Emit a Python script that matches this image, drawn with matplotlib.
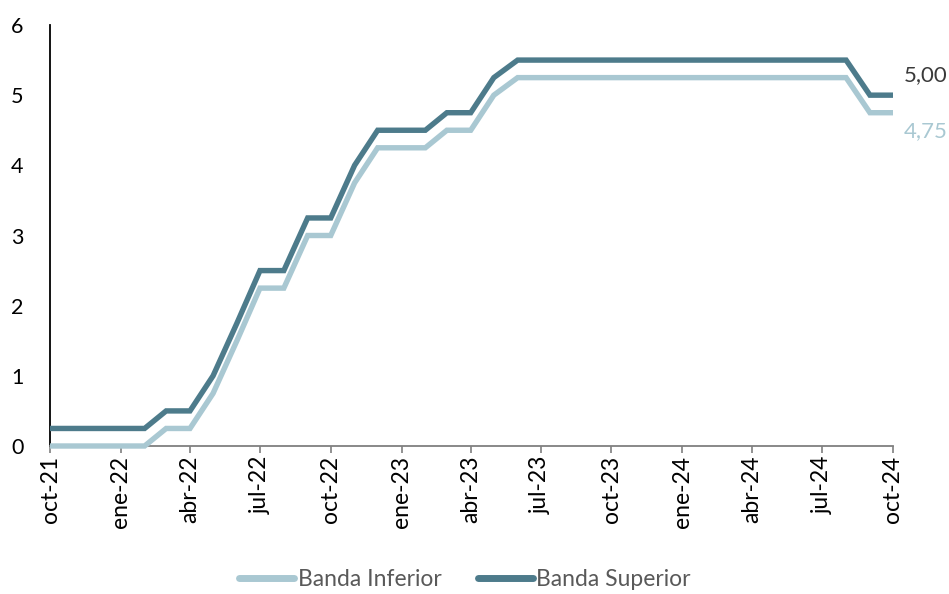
import matplotlib
matplotlib.use('Agg')
import matplotlib.pyplot as plt
import pandas as pd

# monthly fed funds target range, oct-21 .. oct-24
months = pd.date_range('2021-10-01', '2024-10-01', freq='MS')

banda_superior = [0.25, 0.25, 0.25, 0.25, 0.25, 0.50, 0.50, 1.00, 1.75, 2.50,
                  2.50, 3.25, 3.25, 4.00, 4.50, 4.50, 4.50, 4.75, 4.75, 5.25,
                  5.50, 5.50, 5.50, 5.50, 5.50, 5.50, 5.50, 5.50, 5.50, 5.50,
                  5.50, 5.50, 5.50, 5.50, 5.50, 5.00, 5.00]
banda_inferior = [0.00, 0.00, 0.00, 0.00, 0.00, 0.25, 0.25, 0.75, 1.50, 2.25,
                  2.25, 3.00, 3.00, 3.75, 4.25, 4.25, 4.25, 4.50, 4.50, 5.00,
                  5.25, 5.25, 5.25, 5.25, 5.25, 5.25, 5.25, 5.25, 5.25, 5.25,
                  5.25, 5.25, 5.25, 5.25, 5.25, 4.75, 4.75]

tick_labels = ['oct-21', 'ene-22', 'abr-22', 'jul-22', 'oct-22', 'ene-23', 'abr-23',
               'jul-23', 'oct-23', 'ene-24', 'abr-24', 'jul-24', 'oct-24']
y_ticks = [0, 1, 2, 3, 4, 5, 6]

col_inf = '#a9c8d2'
col_sup = '#4d7b8b'

plt.rcParams['font.family'] = ['Lato', 'DejaVu Sans']

fig = plt.figure(figsize=(9.49, 5.94), dpi=100)
ax = fig.add_axes([50 / 949, 1 - 446 / 594, 843 / 949, 421 / 594])

l1, = ax.plot(months, banda_inferior, color=col_inf, lw=3.9, clip_on=False,
              solid_joinstyle='miter', solid_capstyle='butt', label='Banda Inferior', zorder=3)
l2, = ax.plot(months, banda_superior, color=col_sup, lw=3.9, clip_on=False,
              solid_joinstyle='miter', solid_capstyle='butt', label='Banda Superior', zorder=4)

ax.set_xlim(months[0], months[-1])
ax.set_ylim(0, 6)
ax.set_yticks(y_ticks)
ax.set_yticklabels([str(v) for v in y_ticks], fontsize=15.5)
ax.set_xticks(months[::3])
ax.set_xticklabels(tick_labels, rotation=90, fontsize=16.5)

ax.tick_params(axis='y', length=0, pad=19)
ax.tick_params(axis='x', length=5, width=1.2, color='#7f7f7f', pad=2, direction='out')

for s in ['top', 'right']:
    ax.spines[s].set_visible(False)
ax.spines['left'].set_color('black')
ax.spines['left'].set_linewidth(1.3)
ax.spines['bottom'].set_color('#7f7f7f')
ax.spines['bottom'].set_linewidth(1.3)

# end-of-series labels
ax.annotate('5,00', xy=(months[-1], banda_superior[-1]), xytext=(11, 20),
            textcoords='offset pixels', color='#3a3a3a', fontsize=16, va='center',
            annotation_clip=False)
ax.annotate('4,75', xy=(months[-1], banda_inferior[-1]), xytext=(11, -18),
            textcoords='offset pixels', color=col_inf, fontsize=16, va='center',
            annotation_clip=False)

leg = fig.legend(handles=[l1, l2], loc='center', bbox_to_anchor=(465 / 949, 1 - 580 / 594),
                 ncol=2, frameon=False, fontsize=16.5, handlelength=2.4, handletextpad=0.15,
                 columnspacing=1.6, labelcolor='#595959')
for h in leg.get_lines():
    h.set_linewidth(5)
    h.set_solid_capstyle('round')

fig.savefig('out.png', dpi=100)
